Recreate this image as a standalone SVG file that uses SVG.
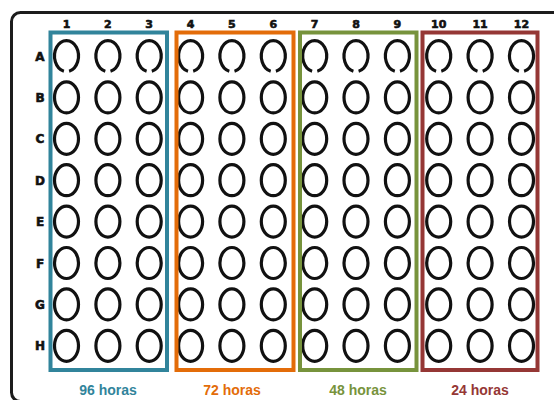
<svg xmlns="http://www.w3.org/2000/svg" xmlns:xlink="http://www.w3.org/1999/xlink" width="554" height="400" viewBox="0 0 554 400">
<style>
.plate{fill:none;stroke:#1c1c1c;stroke-width:3}
.well{fill:none;stroke:#111;stroke-width:3.2}
.num{font-family:"DejaVu Sans",sans-serif;font-weight:bold;font-size:11px;fill:#111;text-anchor:middle;stroke:#111;stroke-width:0.6}
.row{font-family:"DejaVu Sans",sans-serif;font-weight:bold;font-size:12px;fill:#111;text-anchor:middle;stroke:#111;stroke-width:0.6}
.box{fill:none;stroke-width:4}
.lbl{font-family:"Liberation Sans",Arial,sans-serif;font-weight:bold;font-size:14px;text-anchor:middle}
</style>
<defs>
<ellipse id="w" cx="0" cy="0" rx="12" ry="15.5" class="well"/>
<path id="wa" d="M-2.6,15.2 A12 15.5 0 1 1 2.6,15.2" class="well"/>
</defs>
<rect id="plate" class="plate" x="11.5" y="12.5" width="560" height="389" rx="9"/>
<g id="col-numbers">
<text class="num" x="66.5" y="28">1</text>
<text class="num" x="107.9" y="28">2</text>
<text class="num" x="149.2" y="28">3</text>
<text class="num" x="190.6" y="28">4</text>
<text class="num" x="231.9" y="28">5</text>
<text class="num" x="273.3" y="28">6</text>
<text class="num" x="314.7" y="28">7</text>
<text class="num" x="356" y="28">8</text>
<text class="num" x="397.4" y="28">9</text>
<text class="num" x="438.7" y="28">10</text>
<text class="num" x="480.1" y="28">11</text>
<text class="num" x="521.5" y="28">12</text>
</g>
<g id="row-letters">
<text class="row" x="40" y="60.5">A</text>
<text class="row" x="40" y="101.9">B</text>
<text class="row" x="40" y="143.3">C</text>
<text class="row" x="40" y="184.7">D</text>
<text class="row" x="40" y="226.1">E</text>
<text class="row" x="40" y="267.5">F</text>
<text class="row" x="40" y="308.9">G</text>
<text class="row" x="40" y="350.3">H</text>
</g>
<g id="wells">
<g id="row-A">
<use href="#wa" x="66.5" y="56"/><use href="#wa" x="107.9" y="56"/><use href="#wa" x="149.2" y="56"/><use href="#wa" x="190.6" y="56"/><use href="#wa" x="231.9" y="56"/><use href="#wa" x="273.3" y="56"/><use href="#wa" x="314.7" y="56"/><use href="#wa" x="356" y="56"/><use href="#wa" x="397.4" y="56"/><use href="#wa" x="438.7" y="56"/><use href="#wa" x="480.1" y="56"/><use href="#wa" x="521.5" y="56"/>
</g>
<g id="row-B">
<use href="#w" x="66.5" y="97.4"/><use href="#w" x="107.9" y="97.4"/><use href="#w" x="149.2" y="97.4"/><use href="#w" x="190.6" y="97.4"/><use href="#w" x="231.9" y="97.4"/><use href="#w" x="273.3" y="97.4"/><use href="#w" x="314.7" y="97.4"/><use href="#w" x="356" y="97.4"/><use href="#w" x="397.4" y="97.4"/><use href="#w" x="438.7" y="97.4"/><use href="#w" x="480.1" y="97.4"/><use href="#w" x="521.5" y="97.4"/>
</g>
<g id="row-C">
<use href="#w" x="66.5" y="138.8"/><use href="#w" x="107.9" y="138.8"/><use href="#w" x="149.2" y="138.8"/><use href="#w" x="190.6" y="138.8"/><use href="#w" x="231.9" y="138.8"/><use href="#w" x="273.3" y="138.8"/><use href="#w" x="314.7" y="138.8"/><use href="#w" x="356" y="138.8"/><use href="#w" x="397.4" y="138.8"/><use href="#w" x="438.7" y="138.8"/><use href="#w" x="480.1" y="138.8"/><use href="#w" x="521.5" y="138.8"/>
</g>
<g id="row-D">
<use href="#w" x="66.5" y="180.2"/><use href="#w" x="107.9" y="180.2"/><use href="#w" x="149.2" y="180.2"/><use href="#w" x="190.6" y="180.2"/><use href="#w" x="231.9" y="180.2"/><use href="#w" x="273.3" y="180.2"/><use href="#w" x="314.7" y="180.2"/><use href="#w" x="356" y="180.2"/><use href="#w" x="397.4" y="180.2"/><use href="#w" x="438.7" y="180.2"/><use href="#w" x="480.1" y="180.2"/><use href="#w" x="521.5" y="180.2"/>
</g>
<g id="row-E">
<use href="#w" x="66.5" y="221.6"/><use href="#w" x="107.9" y="221.6"/><use href="#w" x="149.2" y="221.6"/><use href="#w" x="190.6" y="221.6"/><use href="#w" x="231.9" y="221.6"/><use href="#w" x="273.3" y="221.6"/><use href="#w" x="314.7" y="221.6"/><use href="#w" x="356" y="221.6"/><use href="#w" x="397.4" y="221.6"/><use href="#w" x="438.7" y="221.6"/><use href="#w" x="480.1" y="221.6"/><use href="#w" x="521.5" y="221.6"/>
</g>
<g id="row-F">
<use href="#w" x="66.5" y="263"/><use href="#w" x="107.9" y="263"/><use href="#w" x="149.2" y="263"/><use href="#w" x="190.6" y="263"/><use href="#w" x="231.9" y="263"/><use href="#w" x="273.3" y="263"/><use href="#w" x="314.7" y="263"/><use href="#w" x="356" y="263"/><use href="#w" x="397.4" y="263"/><use href="#w" x="438.7" y="263"/><use href="#w" x="480.1" y="263"/><use href="#w" x="521.5" y="263"/>
</g>
<g id="row-G">
<use href="#w" x="66.5" y="304.4"/><use href="#w" x="107.9" y="304.4"/><use href="#w" x="149.2" y="304.4"/><use href="#w" x="190.6" y="304.4"/><use href="#w" x="231.9" y="304.4"/><use href="#w" x="273.3" y="304.4"/><use href="#w" x="314.7" y="304.4"/><use href="#w" x="356" y="304.4"/><use href="#w" x="397.4" y="304.4"/><use href="#w" x="438.7" y="304.4"/><use href="#w" x="480.1" y="304.4"/><use href="#w" x="521.5" y="304.4"/>
</g>
<g id="row-H">
<use href="#w" x="66.5" y="345.8"/><use href="#w" x="107.9" y="345.8"/><use href="#w" x="149.2" y="345.8"/><use href="#w" x="190.6" y="345.8"/><use href="#w" x="231.9" y="345.8"/><use href="#w" x="273.3" y="345.8"/><use href="#w" x="314.7" y="345.8"/><use href="#w" x="356" y="345.8"/><use href="#w" x="397.4" y="345.8"/><use href="#w" x="438.7" y="345.8"/><use href="#w" x="480.1" y="345.8"/><use href="#w" x="521.5" y="345.8"/>
</g>
</g>
<g id="group-96h">
<rect class="box" x="50.5" y="32.5" width="116.5" height="337.5" stroke="#31849B"/>
<text class="lbl" x="108" y="395" fill="#31849B">96 horas</text>
</g>
<g id="group-72h">
<rect class="box" x="176.5" y="32.5" width="117" height="337.5" stroke="#E36C09"/>
<text class="lbl" x="232" y="395" fill="#E36C09">72 horas</text>
</g>
<g id="group-48h">
<rect class="box" x="300" y="32.5" width="116.5" height="337.5" stroke="#77933C"/>
<text class="lbl" x="358" y="395" fill="#77933C">48 horas</text>
</g>
<g id="group-24h">
<rect class="box" x="422.5" y="32.5" width="115" height="337.5" stroke="#953735"/>
<text class="lbl" x="480" y="395" fill="#953735">24 horas</text>
</g>
</svg>
